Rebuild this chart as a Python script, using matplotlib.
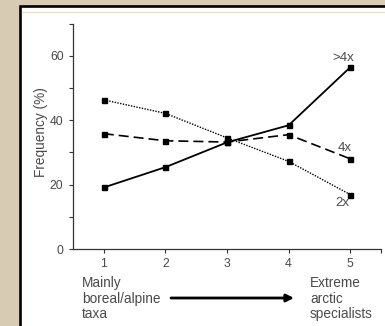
import matplotlib
matplotlib.use("Agg")
import matplotlib.pyplot as plt
from matplotlib.patches import Rectangle
from matplotlib.lines import Line2D

plt.rcParams['font.family'] = ['Liberation Sans', 'DejaVu Sans']

# Specialisation class (1 = mainly boreal/alpine, 5 = extreme arctic specialists)
classes = [1, 2, 3, 4, 5]
# Frequency (%) of ploidy levels within each class
freq_gt4x = [19.1, 25.4, 33.1, 38.4, 56.4]
freq_4x = [35.8, 33.6, 33.2, 35.5, 28.0]
freq_2x = [46.3, 42.1, 34.5, 27.2, 16.9]
series_labels = [">4x", "4x", "2x"]

W, H = 385, 326
fig = plt.figure(figsize=(W / 100, H / 100), dpi=100)
fig.patch.set_facecolor('#d8cbb3')

# white panel with a black frame on the left and top
panel = Rectangle((20 / W, -0.2), 1.3, 1.2 - 5.5 / H, transform=fig.transFigure,
                  facecolor='white', edgecolor='black', linewidth=1.9, zorder=-5)
fig.patches.append(panel)
fig.lines.append(Line2D([22 / W, 1.0], [1 - 12 / H, 1 - 12 / H], transform=fig.transFigure,
                        color='#e8dfcc', linewidth=0.9, zorder=-4))

ax = fig.add_axes([73 / W, 1 - 249 / H, (381 - 73) / W, (249 - 23.5) / H])
ax.set_facecolor('none')

gray = '#4a4a4a'
ax.plot(classes, freq_gt4x, color='black', linestyle='-', linewidth=1.3,
        marker='s', markersize=3.6)
ax.plot(classes, freq_4x, color='black', linestyle=(0, (6, 3)), linewidth=1.2,
        marker='s', markersize=3.6)
ax.plot(classes, freq_2x, color='black', linestyle=(0, (1, 1)), linewidth=1.0,
        marker='s', markersize=3.6)

label_pos = [(4.88, 59.3), (4.91, 31.2), (4.88, 14.2)]
for txt, (lx, ly) in zip(series_labels, label_pos):
    ax.text(lx, ly, txt, ha='center', va='center', fontsize=9.5, color=gray)

ax.set_xlim(0.5, 5.5)
ax.set_ylim(0, 70)
ax.set_xticks(classes)
ax.set_xticks([5.5], minor=True)
ax.set_yticks([0, 20, 40, 60])
ax.set_yticks([10, 30, 50, 70], minor=True)
for s in ['top', 'right']:
    ax.spines[s].set_visible(False)
for s in ['left', 'bottom']:
    ax.spines[s].set_color('#333333')
    ax.spines[s].set_linewidth(0.9)
ax.tick_params(which='both', direction='out', length=2.8, width=0.8,
               color='#333333', labelcolor=gray, labelsize=8.8, pad=4)

ax.set_ylabel('Frequency (%)', fontsize=9.8, color=gray)
ax.yaxis.set_label_coords(-0.08, 0.52)

fig.text(82 / W, 1 - 276 / H, 'Mainly\nboreal/alpine\ntaxa', ha='left', va='top',
         fontsize=9.8, color=gray, linespacing=1.15)
fig.text(310 / W, 1 - 276 / H, 'Extreme\narctic\nspecialists', ha='left', va='top',
         fontsize=9.8, color=gray, linespacing=1.15)
ax.annotate('', xy=(294 / W, 1 - 298 / H), xytext=(171 / W, 1 - 298 / H),
            xycoords='figure fraction', textcoords='figure fraction',
            arrowprops=dict(arrowstyle='-|>', color='black', lw=2.0,
                            mutation_scale=11, shrinkA=0, shrinkB=0))

fig.savefig('out.png', dpi=100, facecolor=fig.get_facecolor())
